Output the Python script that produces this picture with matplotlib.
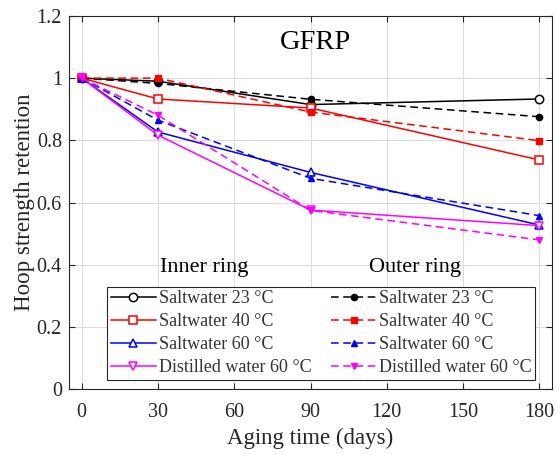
import matplotlib
matplotlib.use("Agg")
import matplotlib.pyplot as plt

plt.rcParams['font.family'] = ['Liberation Serif', 'DejaVu Serif']
plt.rcParams['mathtext.fontset'] = 'stix'

days = [0, 30, 90, 180]

# Inner ring (solid lines, open markers)
inner_sw23 = [1.0, 0.99, 0.915, 0.933]
inner_sw40 = [1.0, 0.933, 0.904, 0.737]
inner_sw60 = [1.0, 0.827, 0.697, 0.528]
inner_dw60 = [1.0, 0.817, 0.576, 0.526]

# Outer ring (dashed lines, filled markers)
outer_sw23 = [1.0, 0.983, 0.932, 0.876]
outer_sw40 = [1.0, 1.0, 0.891, 0.799]
outer_sw60 = [1.0, 0.865, 0.678, 0.558]
outer_dw60 = [1.0, 0.881, 0.575, 0.48]

labels = ["Saltwater 23 \u00b0C", "Saltwater 40 \u00b0C",
          "Saltwater 60 \u00b0C", "Distilled water 60 \u00b0C"]
colors = ["black", "#ff0000", "#0000ff", "#ff00ff"]
markers = ["o", "s", "^", "v"]
xticks = [0, 30, 60, 90, 120, 150, 180]
yticks = [0, 0.2, 0.4, 0.6, 0.8, 1.0, 1.2]
yticklabels = ["0", "0.2", "0.4", "0.6", "0.8", "1", "1.2"]

fig = plt.figure(figsize=(5.6, 4.54), dpi=100)
ax = fig.add_axes([0.123, 0.1425, 0.863, 0.8225])

inner = [inner_sw23, inner_sw40, inner_sw60, inner_dw60]
outer = [outer_sw23, outer_sw40, outer_sw60, outer_dw60]

handles = []
for vals, c, m, lab in zip(inner, colors, markers, labels):
    h, = ax.plot(days, vals, color=c, linestyle='-', linewidth=1.1,
                 marker=m, markersize=6, markerfacecolor='white',
                 markeredgecolor=c, markeredgewidth=1.1, label=lab, zorder=3)
    handles.append(h)
for vals, c, m, lab in zip(outer, colors, markers, labels):
    h, = ax.plot(days, vals, color=c, linestyle=(0, (5, 3)), linewidth=1.1,
                 marker=m, markersize=4.5, markerfacecolor=c,
                 markeredgecolor=c, label=lab, zorder=3)
    handles.append(h)

ax.set_xlim(-5, 185)
ax.set_ylim(0, 1.2)
ax.set_xticks(xticks)
ax.set_yticks(yticks)
ax.set_yticklabels(yticklabels)
ax.tick_params(direction='in', labelsize=14.5, length=4, color='#262626',
               labelcolor='#262626', top=True, right=True)
ax.tick_params(axis='x', pad=10)
ax.tick_params(axis='y', pad=5)
ax.grid(True, color='#dddddd', linewidth=0.8)
ax.set_axisbelow(True)
for s in ax.spines.values():
    s.set_color('#262626')
    s.set_linewidth(0.8)

ax.set_xlabel("Aging time (days)", fontsize=16.5, color='#262626', labelpad=4)
ax.set_ylabel("Hoop strength retention", fontsize=16.5, color='#262626', labelpad=1)

ax.text(92, 1.115, "GFRP", fontsize=20.5, ha='center', va='center')
ax.text(48, 0.393, "Inner ring", fontsize=16, ha='center', va='center')
ax.text(131, 0.393, "Outer ring", fontsize=16, ha='center', va='center')

leg = ax.legend(handles=handles, ncol=2, loc='lower left',
                bbox_to_anchor=(0.079, 0.025, 0.886, 0.25), mode='expand',
                fontsize=13, frameon=True, fancybox=False, handlelength=2.5,
                handletextpad=0.15, labelspacing=0.33, borderpad=0.2,
                columnspacing=0.8, borderaxespad=0.0)
leg.get_frame().set_edgecolor('#262626')
leg.get_frame().set_linewidth(0.8)
leg.get_frame().set_alpha(1.0)
for t in leg.get_texts():
    t.set_color('#333333')

fig.savefig("out.png", dpi=100)
